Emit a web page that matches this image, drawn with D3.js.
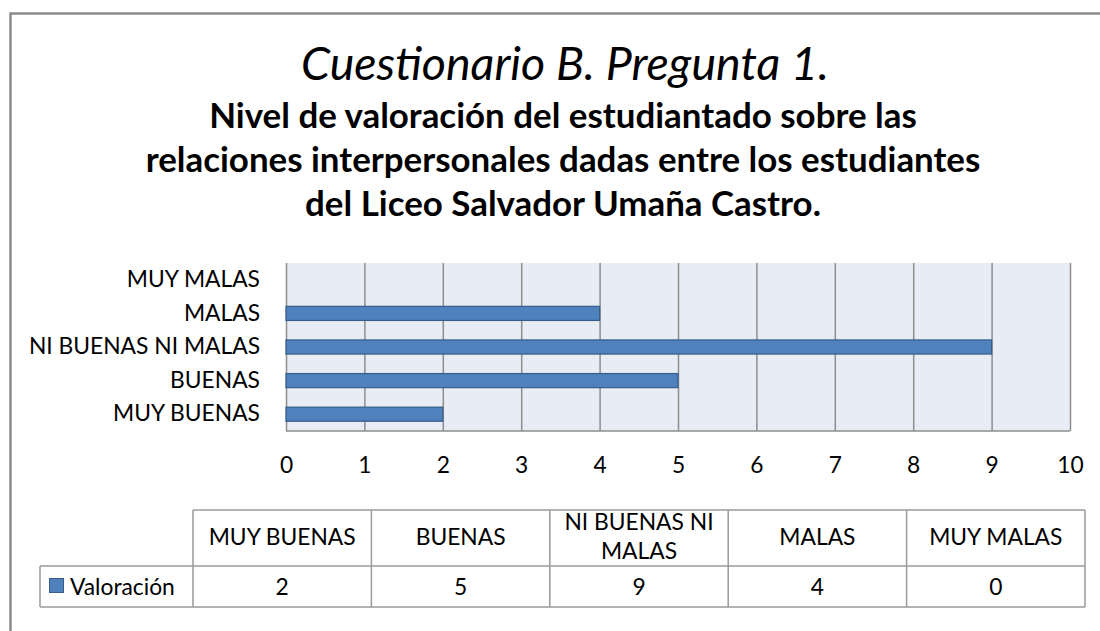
<!DOCTYPE html>
<html>
<head>
<meta charset="utf-8">
<script src="https://cdn.jsdelivr.net/npm/d3@7"></script>
<style>
  body { margin: 0; background: #fff; }
  text { font-family: Lato, "Open Sans", sans-serif; fill: #000; }
</style>
</head>
<body>
<div id="viz"></div>
<script>
// data
var categories = ["MUY BUENAS", "BUENAS", "NI BUENAS NI MALAS", "MALAS", "MUY MALAS"];
var values = [2, 5, 9, 4, 0];
var seriesName = "Valoración";
var xTicks = [0, 1, 2, 3, 4, 5, 6, 7, 8, 9, 10];
var title = "Cuestionario B. Pregunta 1.";
var subtitle = ["Nivel de valoración del estudiantado sobre las",
                "relaciones interpersonales dadas entre los estudiantes",
                "del Liceo Salvador Umaña Castro."];

var w = 1100, h = 631;
var barFill = "#4F81BD", barStroke = "#385D8A", gridColor = "#8E8E8E", lineColor = "#9A9A9A";

var svg = d3.select("#viz").append("svg")
    .attr("width", w)
    .attr("height", h);

// outer chart frame
svg.append("rect")
    .attr("x", 10.5).attr("y", 13.5)
    .attr("width", 1200).attr("height", 700)
    .attr("fill", "none")
    .attr("stroke", "#8A8A8A")
    .attr("stroke-width", 2.5);

// helper: scale the font so the text takes a given width
function fit(sel, target) {
    var fs = parseFloat(sel.attr("font-size"));
    var len = sel.node().getComputedTextLength();
    sel.attr("font-size", fs * target / len);
    return fs * target / len;
}

// base label size measured from a reference label width
var probe = svg.append("text").attr("font-size", 100).text("MUY BUENAS");
var fs = fit(probe, 147);
probe.remove();

// title
var t = svg.append("text")
    .attr("x", 565).attr("y", 80)
    .attr("text-anchor", "middle")
    .attr("font-style", "italic")
    .attr("font-size", 40)
    .text(title);
fit(t, 528);

// subtitle: one size for all lines
var subWidths = [712, 835, 512];
var sub = svg.append("g");
var lines = sub.selectAll("text")
    .data(subtitle)
    .enter().append("text")
    .attr("x", 563)
    .attr("y", function(d, i) { return 128 + i * 44; })
    .attr("text-anchor", "middle")
    .attr("font-weight", "bold")
    .attr("font-size", 30)
    .text(function(d) { return d; });
var measured = 0;
lines.each(function() { measured += this.getComputedTextLength(); });
lines.attr("font-size", 30 * d3.sum(subWidths) / measured);

// plot area
var plot = { left: 286, right: 1070, top: 263, bottom: 431 };

var x = d3.scaleLinear()
    .domain([0, 10])
    .range([plot.left, plot.right]);

var y = d3.scaleBand()
    .domain(categories)
    .range([plot.bottom, plot.top])
    .paddingInner(0.58)
    .paddingOuter(0.29);

svg.append("rect")
    .attr("x", plot.left).attr("y", plot.top)
    .attr("width", plot.right - plot.left)
    .attr("height", plot.bottom - plot.top)
    .attr("fill", "#E8ECF4");

// vertical gridlines
svg.append("g")
    .attr("class", "grid")
    .attr("transform", "translate(0," + plot.bottom + ")")
    .call(d3.axisBottom(x).tickValues(xTicks).tickSize(-(plot.bottom - plot.top)).tickFormat(""))
    .call(function(g) {
        g.select(".domain").remove();
        g.selectAll("line").attr("stroke", gridColor).attr("stroke-width", 1.5);
    });

// bottom axis line
svg.append("line")
    .attr("x1", plot.left).attr("x2", plot.right)
    .attr("y1", plot.bottom).attr("y2", plot.bottom)
    .attr("stroke", gridColor).attr("stroke-width", 1.5);

// bars
svg.selectAll("rect.bar")
    .data(values)
    .enter().append("rect")
    .attr("class", "bar")
    .attr("x", x(0))
    .attr("y", function(d, i) { return y(categories[i]); })
    .attr("width", function(d) { return x(d) - x(0); })
    .attr("height", y.bandwidth())
    .attr("fill", barFill)
    .attr("stroke", barStroke)
    .attr("stroke-width", 1.2);

// x tick labels
svg.append("g")
    .attr("transform", "translate(0," + plot.bottom + ")")
    .call(d3.axisBottom(x).tickValues(xTicks).tickSize(0).tickPadding(42 - 0.71 * fs))
    .call(function(g) {
        g.select(".domain").remove();
        g.selectAll("text").attr("font-size", fs).attr("font-family", null).attr("fill", "#000");
    });

// category labels
svg.append("g")
    .attr("transform", "translate(" + plot.left + ",0)")
    .call(d3.axisLeft(y).tickSize(0).tickPadding(26))
    .call(function(g) {
        g.select(".domain").remove();
        g.selectAll("text").attr("font-size", fs).attr("font-family", null).attr("fill", "#000");
    });

// data table
var tbl = { left: 193, right: 1085, top: 510, mid: 566, bottom: 607, legendLeft: 40 };
var col = d3.scaleBand()
    .domain(categories)
    .range([tbl.left, tbl.right]);

var table = svg.append("g").attr("class", "table");

function hline(x1, x2, yy) {
    table.append("line").attr("x1", x1).attr("x2", x2).attr("y1", yy).attr("y2", yy)
        .attr("stroke", lineColor).attr("stroke-width", 1.5);
}
function vline(xx, y1, y2) {
    table.append("line").attr("x1", xx).attr("x2", xx).attr("y1", y1).attr("y2", y2)
        .attr("stroke", lineColor).attr("stroke-width", 1.5);
}
hline(tbl.left, tbl.right, tbl.top);
hline(tbl.legendLeft, tbl.right, tbl.mid);
hline(tbl.legendLeft, tbl.right, tbl.bottom);
vline(tbl.legendLeft, tbl.mid, tbl.bottom);
categories.forEach(function(c) { vline(col(c), tbl.top, tbl.bottom); });
vline(tbl.right, tbl.top, tbl.bottom);

// header labels with wrapping
categories.forEach(function(c) {
    var cx = col(c) + col.bandwidth() / 2;
    var words = c.split(" "), rows = [], cur = "";
    var tmp = table.append("text").attr("font-size", fs);
    words.forEach(function(word) {
        var test = cur ? cur + " " + word : word;
        tmp.text(test);
        if (tmp.node().getComputedTextLength() > col.bandwidth() - 12 && cur) {
            rows.push(cur);
            cur = word;
        } else {
            cur = test;
        }
    });
    rows.push(cur);
    tmp.remove();
    var lh = 29;
    var cy = 537 - (rows.length - 1) * lh / 2;
    rows.forEach(function(r, i) {
        table.append("text")
            .attr("x", cx)
            .attr("y", cy + i * lh)
            .attr("dy", "0.35em")
            .attr("text-anchor", "middle")
            .attr("font-size", fs)
            .text(r);
    });
});

// value row
table.selectAll("text.val")
    .data(values)
    .enter().append("text")
    .attr("class", "val")
    .attr("x", function(d, i) { return col(categories[i]) + col.bandwidth() / 2; })
    .attr("y", 587)
    .attr("dy", "0.35em")
    .attr("text-anchor", "middle")
    .attr("font-size", fs)
    .text(function(d) { return d; });

// legend key in table
table.append("rect")
    .attr("x", 49.5).attr("y", 578.5)
    .attr("width", 14).attr("height", 14)
    .attr("fill", barFill)
    .attr("stroke", barStroke)
    .attr("stroke-width", 1);

table.append("text")
    .attr("x", 70).attr("y", 587)
    .attr("dy", "0.35em")
    .attr("font-size", fs)
    .text(seriesName);
</script>
</body>
</html>
